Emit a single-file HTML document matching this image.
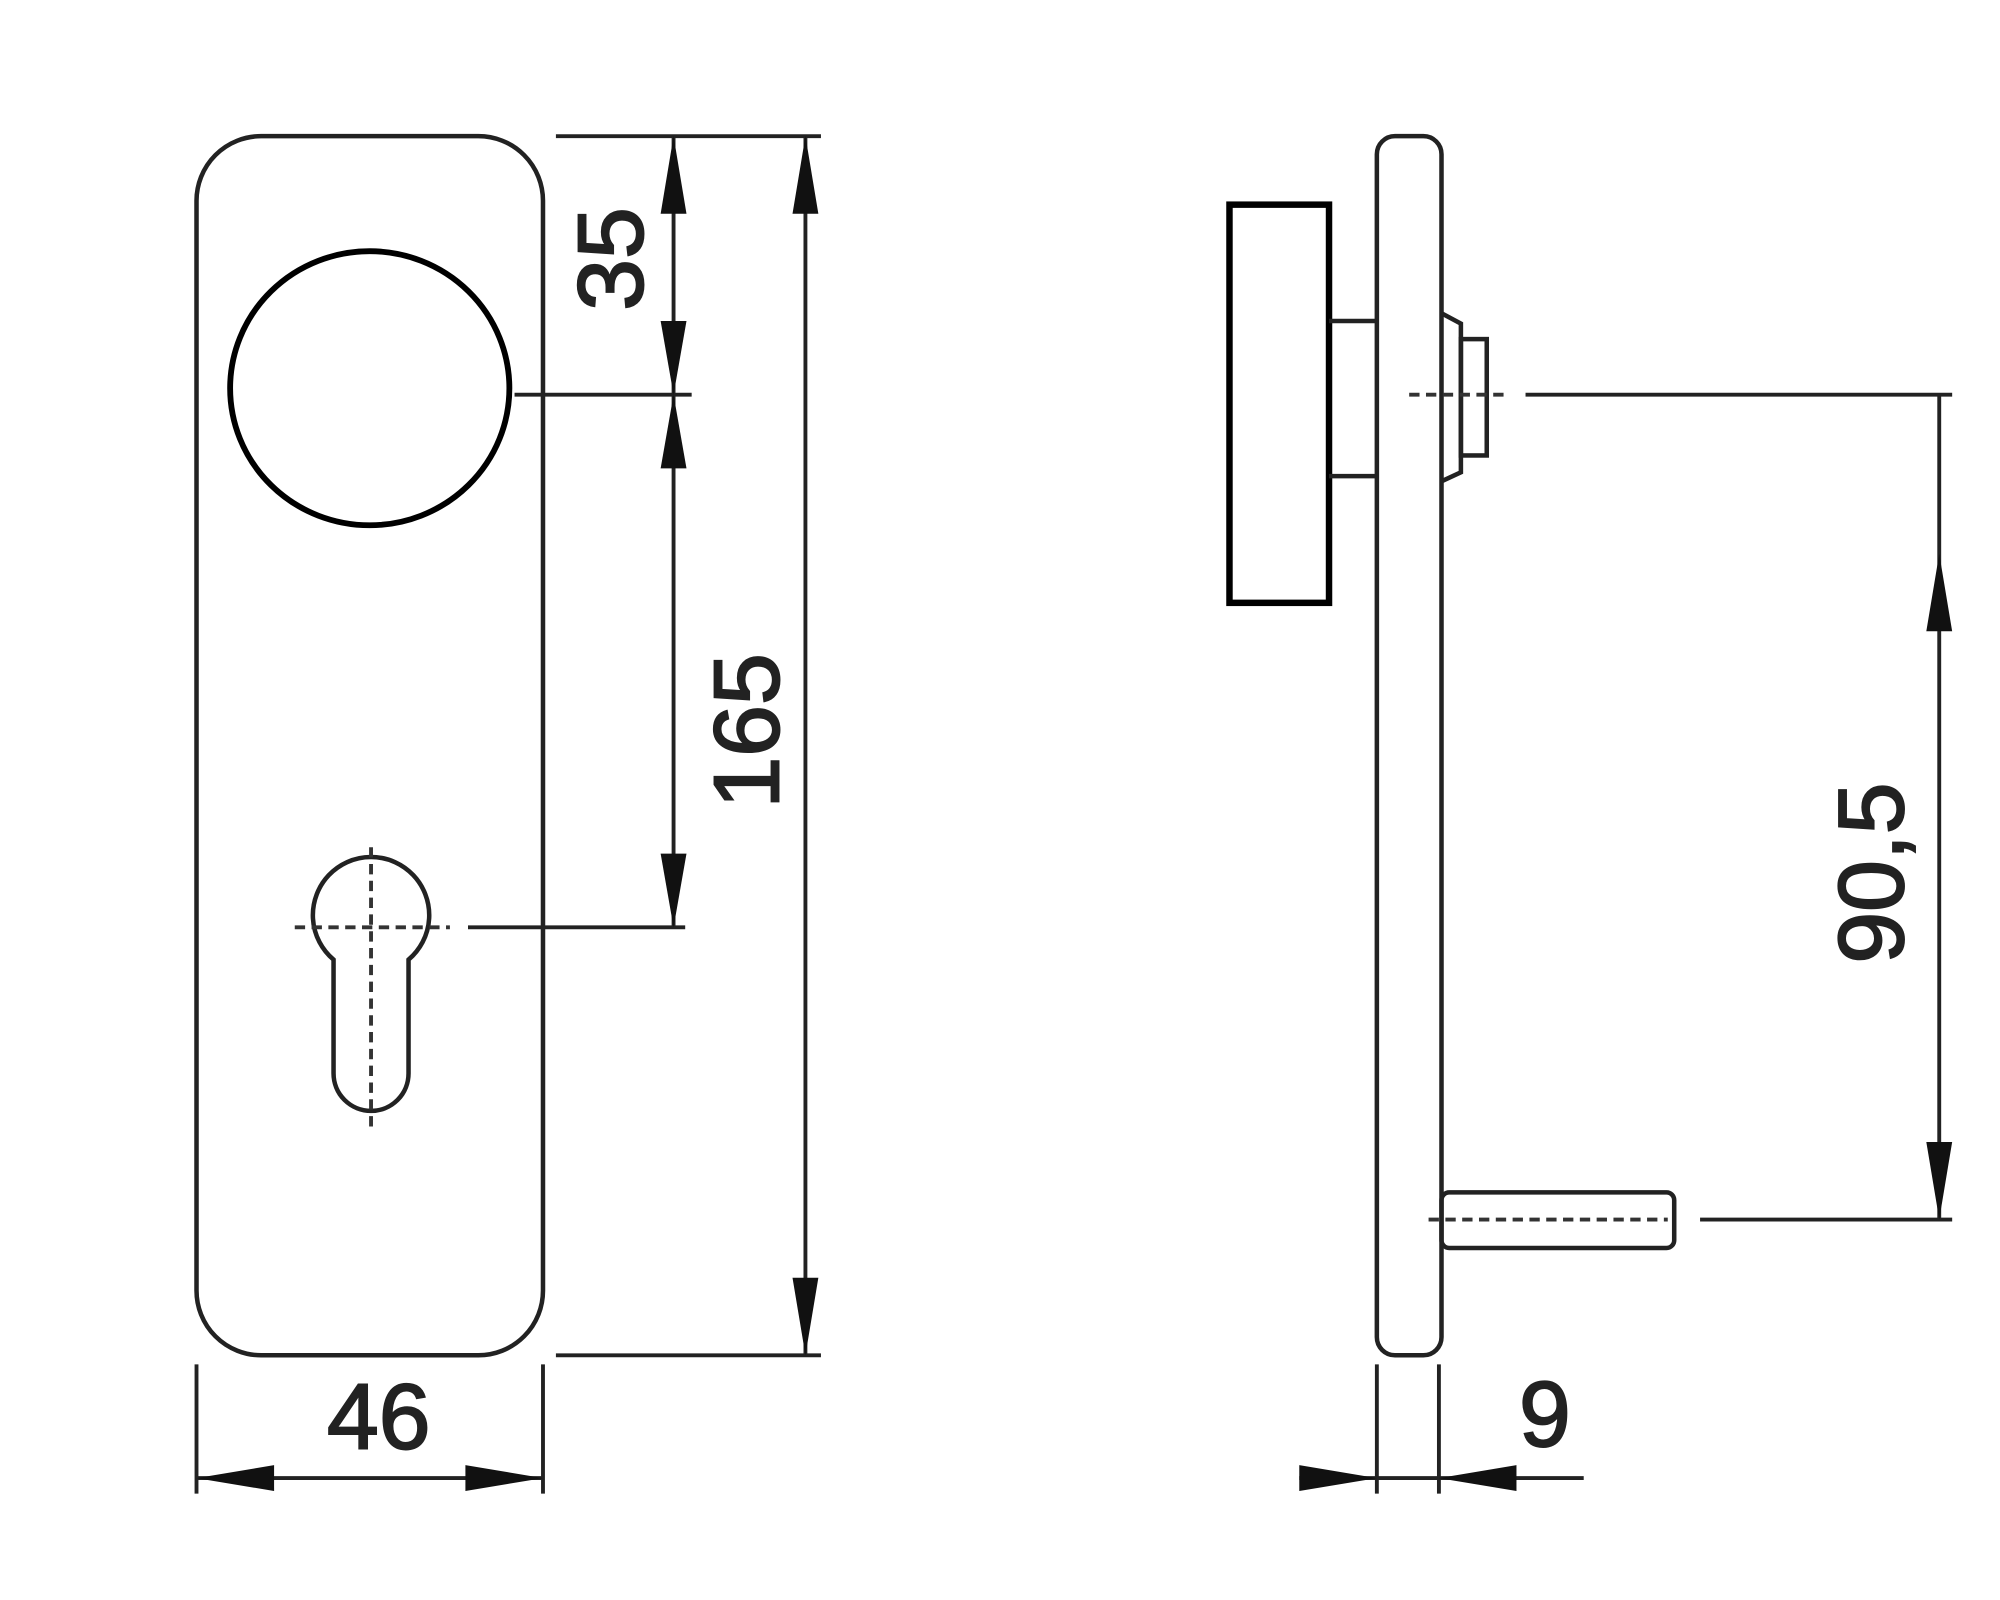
<!DOCTYPE html>
<html><head><style>html,body{margin:0;padding:0;background:#fff}svg{display:block}</style></head>
<body>
<svg width="2000" height="1600" viewBox="0 0 1547 1237" xmlns="http://www.w3.org/2000/svg" font-family="Liberation Sans, sans-serif">
<rect width="1547" height="1237" fill="#fff"/>
<g fill="none" stroke="#222" stroke-width="3.5">
<rect x="152" y="105" width="268" height="943" rx="50"/>
<path d="M258,742 A45,45 0 1,1 316,742 L316,830 A29,29 0 0,1 258,830 Z"/>
</g>
<ellipse cx="286" cy="300" rx="108" ry="106" fill="none" stroke="#000" stroke-width="4.5"/>
<g stroke="#333" stroke-width="3" stroke-dasharray="8,5" fill="none">
<line x1="228" y1="717" x2="348" y2="717"/>
<line x1="287" y1="655" x2="287" y2="875"/>
</g>
<g stroke="#222" stroke-width="3" fill="none">
<line x1="430" y1="105" x2="635" y2="105"/>
<line x1="398" y1="305" x2="535" y2="305"/>
<line x1="362" y1="717" x2="530" y2="717"/>
<line x1="430" y1="1048" x2="635" y2="1048"/>
<line x1="521" y1="105" x2="521" y2="717"/>
<line x1="623" y1="105" x2="623" y2="1048"/>
<line x1="152" y1="1055" x2="152" y2="1155"/>
<line x1="420" y1="1055" x2="420" y2="1155"/>
<line x1="152" y1="1143" x2="420" y2="1143"/>
</g>
<g fill="#111">
<polygon points="521,105 511,165 531,165"/>
<polygon points="521,305 511,248 531,248"/>
<polygon points="521,305 511,362 531,362"/>
<polygon points="521,717 511,660 531,660"/>
<polygon points="623,105 613,165 633,165"/>
<polygon points="623,1048 613,988 633,988"/>
<polygon points="152,1143 212,1133 212,1153"/>
<polygon points="420,1143 360,1133 360,1153"/>
</g>
<g font-size="72" fill="#222" stroke="#222" stroke-width="1.5">
<text transform="translate(497,200) rotate(-90)" text-anchor="middle">35</text>
<text transform="translate(602,565) rotate(-90)" text-anchor="middle">165</text>
<text x="293" y="1120" text-anchor="middle">46</text>
<text transform="translate(1472,675) rotate(-90)" text-anchor="middle">90,5</text>
<text x="1195" y="1118" text-anchor="middle">9</text>
</g>
<rect x="951" y="158" width="77" height="308" fill="none" stroke="#000" stroke-width="5"/>
<g stroke="#222" stroke-width="3.5" fill="none">
<rect x="1065" y="105" width="50" height="943" rx="14"/>
<line x1="1028" y1="248" x2="1065" y2="248"/>
<line x1="1028" y1="368" x2="1065" y2="368"/>
<path d="M1115,242 L1130,250 L1130,365 L1115,372"/>
<rect x="1130" y="262" width="20" height="90"/>
<rect x="1115" y="922" width="180" height="43" rx="6"/>
</g>
<g stroke="#333" stroke-width="3" stroke-dasharray="8,5">
<line x1="1090" y1="305" x2="1165" y2="305"/>
<line x1="1105" y1="943" x2="1290" y2="943"/>
</g>
<g stroke="#222" stroke-width="3" fill="none">
<line x1="1180" y1="305" x2="1510" y2="305"/>
<line x1="1315" y1="943" x2="1510" y2="943"/>
<line x1="1500" y1="305" x2="1500" y2="943"/>
<line x1="1065" y1="1055" x2="1065" y2="1155"/>
<line x1="1113" y1="1055" x2="1113" y2="1155"/>
<line x1="1005" y1="1143" x2="1225" y2="1143"/>
</g>
<g fill="#111">
<polygon points="1500,428 1490,488 1510,488"/>
<polygon points="1500,943 1490,883 1510,883"/>
<polygon points="1065,1143 1005,1133 1005,1153"/>
<polygon points="1113,1143 1173,1133 1173,1153"/>
</g>
</svg>
</body></html>
